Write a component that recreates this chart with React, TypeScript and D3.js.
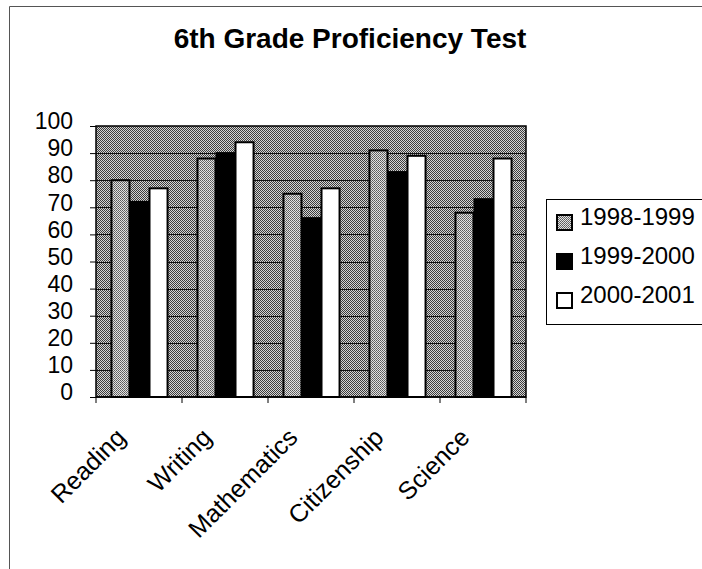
import React, { useEffect, useRef } from 'react';
import * as d3 from 'd3';

const categories = ['Reading', 'Writing', 'Mathematics', 'Citizenship', 'Science'];
const seriesNames = ['1998-1999', '1999-2000', '2000-2001'];
const values1998 = [80, 88, 75, 91, 68];
const values1999 = [72, 90, 66, 83, 73];
const values2000 = [77, 94, 77, 89, 88];
const yTickValues = [0, 10, 20, 30, 40, 50, 60, 70, 80, 90, 100];

const FONT = '"Liberation Sans", Arial, sans-serif';

function App() {
    const ref = useRef<SVGSVGElement>(null);

    useEffect(() => {
        const svg = d3.select(ref.current);
        svg.selectAll('*').remove();

        const series = [values1998, values1999, values2000];
        const left = 96, right = 526, top = 126, bottom = 397;

        // dithered fills like the scanned original
        const defs = svg.append('defs');
        const bgPat = defs.append('pattern')
            .attr('id', 'plotBg')
            .attr('patternUnits', 'userSpaceOnUse')
            .attr('width', 2)
            .attr('height', 2);
        bgPat.append('rect').attr('width', 2).attr('height', 2).attr('fill', '#d4d4d4');
        bgPat.append('rect').attr('width', 1).attr('height', 1).attr('fill', '#3c3c3c');
        bgPat.append('rect').attr('x', 1).attr('y', 1).attr('width', 1).attr('height', 1).attr('fill', '#3c3c3c');

        const barPat = defs.append('pattern')
            .attr('id', 'barGray')
            .attr('patternUnits', 'userSpaceOnUse')
            .attr('width', 2)
            .attr('height', 2);
        barPat.append('rect').attr('width', 2).attr('height', 2).attr('fill', '#e2e2e2');
        barPat.append('rect').attr('width', 1).attr('height', 1).attr('fill', '#5a5a5a');
        barPat.append('rect').attr('x', 1).attr('y', 1).attr('width', 1).attr('height', 1).attr('fill', '#6e6e6e');

        const fills = ['url(#barGray)', '#000', '#fff'];

        // outer chart frame (only top and left edges show)
        svg.append('path')
            .attr('d', 'M9.5,569V6.5H702')
            .attr('fill', 'none')
            .attr('stroke', '#555')
            .attr('stroke-width', 1);

        svg.append('text')
            .attr('x', 350)
            .attr('y', 48)
            .attr('text-anchor', 'middle')
            .attr('font-family', FONT)
            .attr('font-weight', 'bold')
            .attr('font-size', 28)
            .text('6th Grade Proficiency Test');

        const x0 = d3.scaleBand()
            .domain(categories)
            .range([left, right])
            .padding(0);

        const x1 = d3.scaleBand()
            .domain(seriesNames)
            .range([0, x0.bandwidth()])
            .paddingInner(0)
            .paddingOuter(0.76);

        const y = d3.scaleLinear()
            .domain([0, 100])
            .range([bottom, top]);

        svg.append('rect')
            .attr('x', left)
            .attr('y', top)
            .attr('width', right - left)
            .attr('height', bottom - top)
            .attr('fill', 'url(#plotBg)');

        svg.append('g')
            .selectAll('line')
            .data(yTickValues.slice(1, -1))
            .enter()
            .append('line')
            .attr('x1', left)
            .attr('x2', right)
            .attr('y1', d => Math.round(y(d)) + 0.5)
            .attr('y2', d => Math.round(y(d)) + 0.5)
            .attr('stroke', '#111')
            .attr('stroke-width', 1);

        const groups = svg.append('g')
            .selectAll('g')
            .data(categories)
            .enter()
            .append('g')
            .attr('transform', d => `translate(${x0(d)},0)`);

        groups.selectAll('rect')
            .data((d, i) => seriesNames.map((s, j) => ({ s, j, v: series[j][i] })))
            .enter()
            .append('rect')
            .attr('x', d => (x1(d.s) as number) + 1)
            .attr('y', d => y(d.v))
            .attr('width', x1.bandwidth() - 1)
            .attr('height', d => bottom - y(d.v))
            .attr('fill', d => fills[d.j])
            .attr('stroke', '#000')
            .attr('stroke-width', 2);

        svg.append('rect')
            .attr('x', left)
            .attr('y', top)
            .attr('width', right - left)
            .attr('height', bottom - top)
            .attr('fill', 'none')
            .attr('stroke', '#000')
            .attr('stroke-width', 1.5);

        const yAxis = svg.append('g')
            .attr('transform', `translate(${left},0)`)
            .call(d3.axisLeft(y).tickValues(yTickValues).tickSize(6).tickPadding(17).tickFormat(d3.format('d')));
        yAxis.select('.domain').remove();
        yAxis.selectAll('line').attr('stroke', '#000');
        yAxis.selectAll('text')
            .attr('font-family', FONT)
            .attr('font-size', 23)
            .attr('fill', '#000')
            .attr('dy', '0.12em');

        const xAxis = svg.append('g')
            .attr('transform', `translate(0,${bottom})`);
        xAxis.append('line')
            .attr('x1', left)
            .attr('x2', right)
            .attr('stroke', '#000')
            .attr('stroke-width', 1.5);
        xAxis.selectAll('line.tick')
            .data(categories.concat(['end']))
            .enter()
            .append('line')
            .attr('class', 'tick')
            .attr('x1', (d, i) => (i < categories.length ? (x0(d) as number) : right))
            .attr('x2', (d, i) => (i < categories.length ? (x0(d) as number) : right))
            .attr('y1', 0)
            .attr('y2', 6)
            .attr('stroke', '#000');

        xAxis.selectAll('text')
            .data(categories)
            .enter()
            .append('text')
            .attr('text-anchor', 'end')
            .attr('font-family', FONT)
            .attr('font-size', 25)
            .attr('transform', d => `translate(${(x0(d) as number) + x0.bandwidth() / 2 - 12},42) rotate(-45)`)
            .text(d => d);

        const legend = svg.append('g');
        legend.append('rect')
            .attr('x', 546.5)
            .attr('y', 199.5)
            .attr('width', 170)
            .attr('height', 125)
            .attr('fill', '#fff')
            .attr('stroke', '#000')
            .attr('stroke-width', 1);

        const items = legend.selectAll('g')
            .data(seriesNames)
            .enter()
            .append('g')
            .attr('transform', (d, i) => `translate(0,${225 + i * 39})`);
        items.append('rect')
            .attr('x', 557)
            .attr('y', -10)
            .attr('width', 15)
            .attr('height', 15)
            .attr('fill', (d, i) => fills[i])
            .attr('stroke', '#000')
            .attr('stroke-width', 2);
        items.append('text')
            .attr('x', 580)
            .attr('y', 0)
            .attr('font-family', FONT)
            .attr('font-size', 24)
            .text(d => d);
    }, []);

    return (
        <svg
            ref={ref}
            width={702}
            height={569}
            style={{ position: 'absolute', left: 0, top: 0, background: '#fff' }}
        />
    );
}

export default App;
